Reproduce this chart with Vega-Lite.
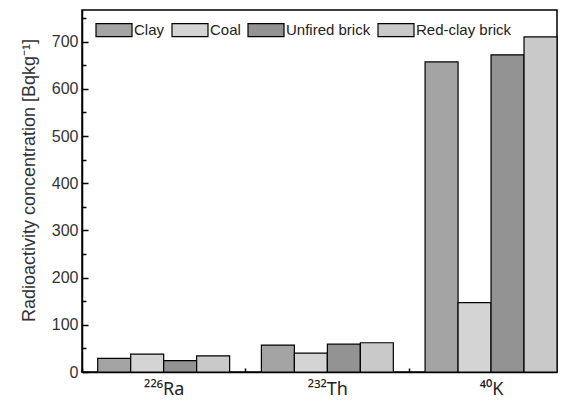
{
  "$schema": "https://vega.github.io/schema/vega-lite/v6.json",
  "autosize": "none",
  "padding": {"left": 82, "top": 10, "right": 12, "bottom": 32},
  "width": 475,
  "height": 362,
  "background": "white",
  "data": {
    "values": [
      {"nuclide": "²²⁶Ra", "material": "Clay", "value": 29},
      {"nuclide": "²²⁶Ra", "material": "Coal", "value": 38},
      {"nuclide": "²²⁶Ra", "material": "Unfired brick", "value": 24},
      {"nuclide": "²²⁶Ra", "material": "Red-clay brick", "value": 34},
      {"nuclide": "²³²Th", "material": "Clay", "value": 57},
      {"nuclide": "²³²Th", "material": "Coal", "value": 40},
      {"nuclide": "²³²Th", "material": "Unfired brick", "value": 59},
      {"nuclide": "²³²Th", "material": "Red-clay brick", "value": 62},
      {"nuclide": "⁴⁰K", "material": "Clay", "value": 657},
      {"nuclide": "⁴⁰K", "material": "Coal", "value": 147},
      {"nuclide": "⁴⁰K", "material": "Unfired brick", "value": 672},
      {"nuclide": "⁴⁰K", "material": "Red-clay brick", "value": 710}
    ]
  },
  "mark": {"type": "bar", "stroke": "black", "strokeWidth": 1.2},
  "encoding": {
    "x": {
      "field": "nuclide",
      "type": "nominal",
      "sort": ["²²⁶Ra", "²³²Th", "⁴⁰K"],
      "scale": {"paddingInner": 0.194, "paddingOuter": 0.048, "align": 1},
      "axis": {
        "title": null,
        "labelAngle": 0,
        "labelFont": "Noto Sans",
        "labelFontSize": 18,
        "labelPadding": 12,
        "tickOffset": -82,
        "labelOffset": 82,
        "tickSize": -4,
        "labelColor": "#222"
      }
    },
    "xOffset": {
      "field": "material",
      "type": "nominal",
      "sort": ["Clay", "Coal", "Unfired brick", "Red-clay brick"],
      "scale": {"paddingInner": 0, "paddingOuter": 0}
    },
    "y": {
      "field": "value",
      "type": "quantitative",
      "scale": {"domain": [0, 767], "nice": false},
      "axis": {
        "title": "Radioactivity concentration [Bqkg⁻¹]",
        "titleFontSize": 18,
        "titleFontWeight": "normal",
        "titleColor": "#333",
        "titlePadding": 13,
        "titleY": 170,
        "values": [0, 50, 100, 150, 200, 250, 300, 350, 400, 450, 500, 550, 600, 650, 700, 750],
        "labelExpr": "datum.value % 100 === 0 ? datum.label : ''",
        "labelFontSize": 16,
        "labelPadding": 10,
        "tickSize": {"condition": {"test": "datum.value % 100 === 0", "value": -6}, "value": -4},
        "grid": false
      }
    },
    "fill": {
      "field": "material",
      "type": "nominal",
      "sort": ["Clay", "Coal", "Unfired brick", "Red-clay brick"],
      "scale": {
        "domain": ["Clay", "Coal", "Unfired brick", "Red-clay brick"],
        "range": ["#a4a4a4", "#d4d4d4", "#939393", "#c9c9c9"]
      },
      "legend": {
        "title": null,
        "orient": "none",
        "direction": "horizontal",
        "legendX": 13,
        "legendY": 1,
        "symbolType": "M-1,-0.36H1V0.36H-1Z",
        "symbolSize": 1296,
        "symbolStrokeColor": "black",
        "symbolStrokeWidth": 1.2,
        "symbolOpacity": 1,
        "labelFontSize": 15,
        "labelColor": "#222",
        "labelOffset": 1,
        "columnPadding": 4,
        "padding": 0
      }
    }
  },
  "config": {
    "font": "Liberation Sans",
    "view": {"stroke": "black", "strokeWidth": 1.5},
    "axis": {
      "domainColor": "black",
      "domainWidth": 1.5,
      "tickColor": "black",
      "tickWidth": 1.5,
      "labelColor": "#333",
      "labelFont": "Liberation Sans",
      "titleFont": "Liberation Sans"
    },
    "legend": {"labelFont": "Liberation Sans"}
  }
}
